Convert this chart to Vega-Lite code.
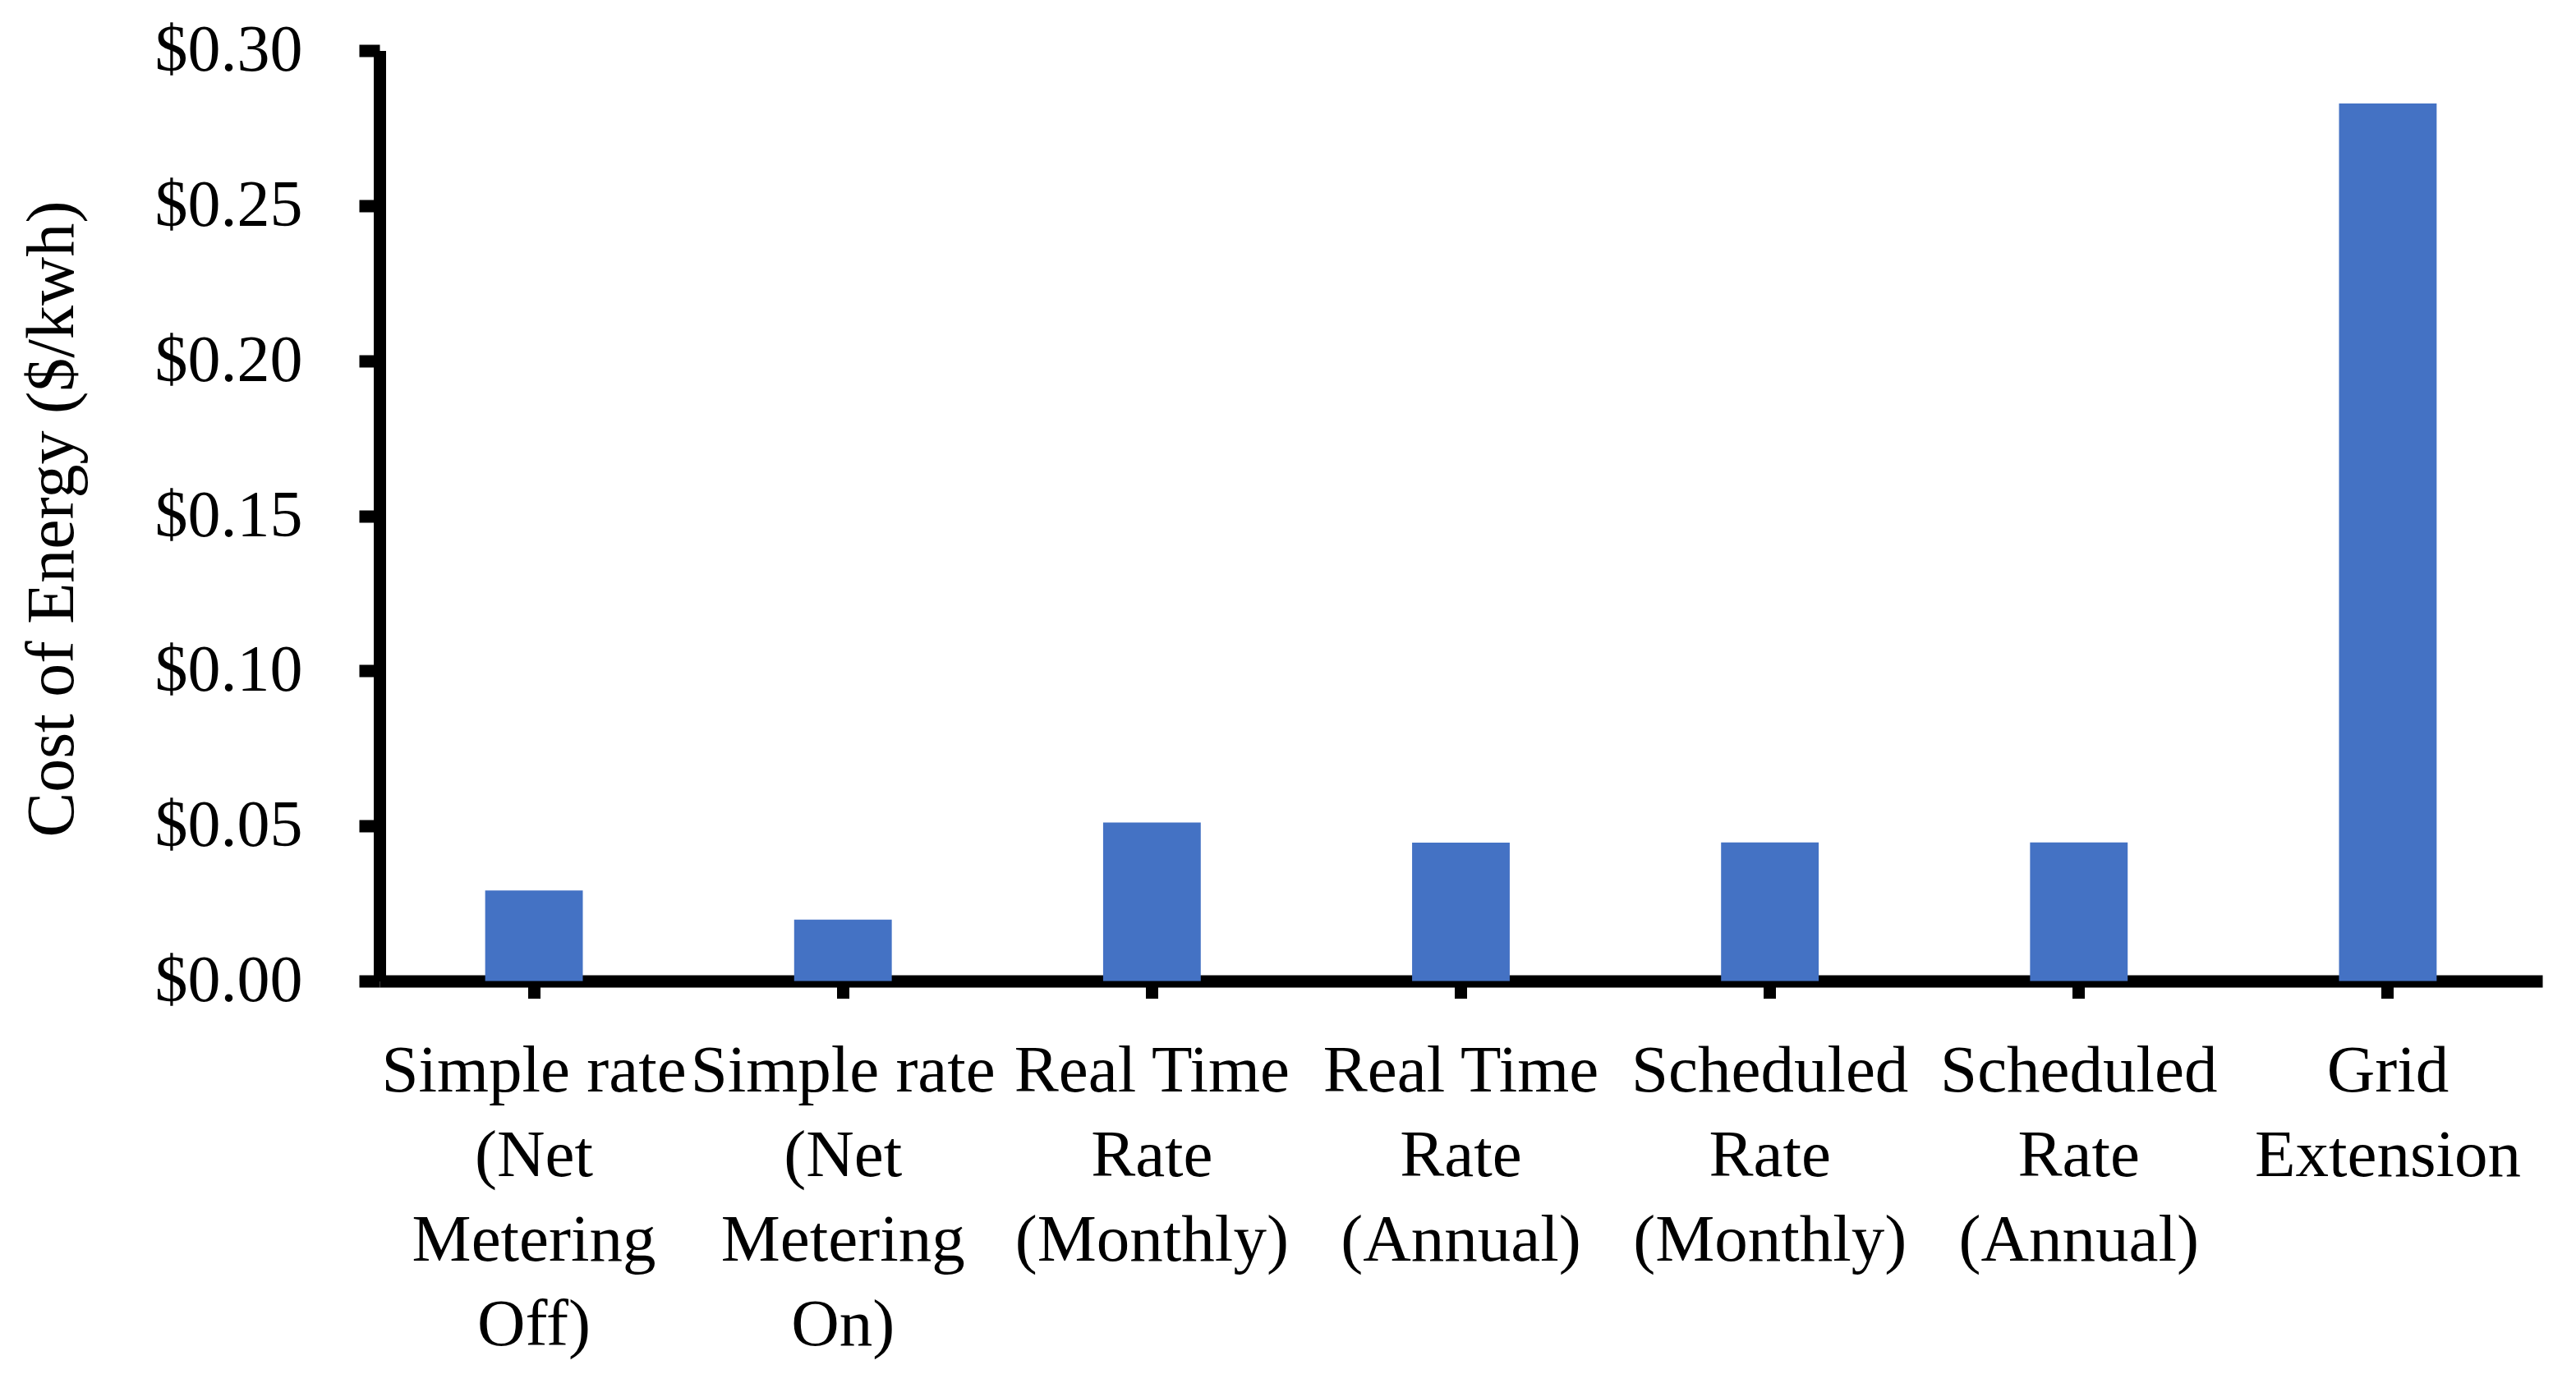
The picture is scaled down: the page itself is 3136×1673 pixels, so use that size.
{
  "$schema": "https://vega.github.io/schema/vega-lite/v6.json",
  "autosize": "none",
  "width": 2633,
  "height": 1133,
  "padding": {"left": 462, "top": 61.5, "right": 41, "bottom": 478.5},
  "background": "white",
  "data": {
    "values": [
      {"category": "Simple rate|(Net|Metering|Off)", "cost": 0.0292},
      {"category": "Simple rate|(Net|Metering|On)", "cost": 0.0198},
      {"category": "Real Time|Rate|(Monthly)", "cost": 0.0511},
      {"category": "Real Time|Rate|(Annual)", "cost": 0.0446},
      {"category": "Scheduled|Rate|(Monthly)", "cost": 0.0447},
      {"category": "Scheduled|Rate|(Annual)", "cost": 0.0447},
      {"category": "Grid|Extension", "cost": 0.2829}
    ]
  },
  "mark": {"type": "bar", "color": "#4472C4"},
  "encoding": {
    "x": {
      "field": "category",
      "type": "nominal",
      "sort": null,
      "scale": {"paddingInner": 0.684, "paddingOuter": 0.342},
      "axis": {
        "title": null,
        "labelAngle": 0,
        "labelExpr": "split(datum.label, '|')",
        "labelFont": "Liberation Serif",
        "labelFontSize": 81,
        "labelColor": "black",
        "labelLineHeight": 103,
        "labelPadding": 49,
        "labelBaseline": "top",
        "labelLimit": 0,
        "labelOverlap": false,
        "domainColor": "black",
        "domainWidth": 15,
        "tickColor": "black",
        "tickWidth": 15,
        "tickSize": 21,
        "grid": false
      }
    },
    "y": {
      "field": "cost",
      "type": "quantitative",
      "scale": {"domain": [0, 0.3], "nice": false},
      "axis": {
        "title": "Cost of Energy ($/kwh)",
        "titleFont": "Liberation Serif",
        "titleFontSize": 82,
        "titleFontWeight": "normal",
        "titleColor": "black",
        "titleX": -374,
        "titleY": 570,
        "titleAngle": -90,
        "titleAlign": "center",
        "titleBaseline": "alphabetic",
        "values": [0, 0.05, 0.1, 0.15, 0.2, 0.25, 0.3],
        "format": "$.2f",
        "labelFont": "Liberation Serif",
        "labelFontSize": 80,
        "labelColor": "black",
        "labelPadding": 69,
        "labelLimit": 0,
        "domainColor": "black",
        "domainWidth": 15,
        "tickColor": "black",
        "tickWidth": 15,
        "tickSize": 25,
        "grid": false
      }
    }
  },
  "config": {"view": {"stroke": null}}
}
